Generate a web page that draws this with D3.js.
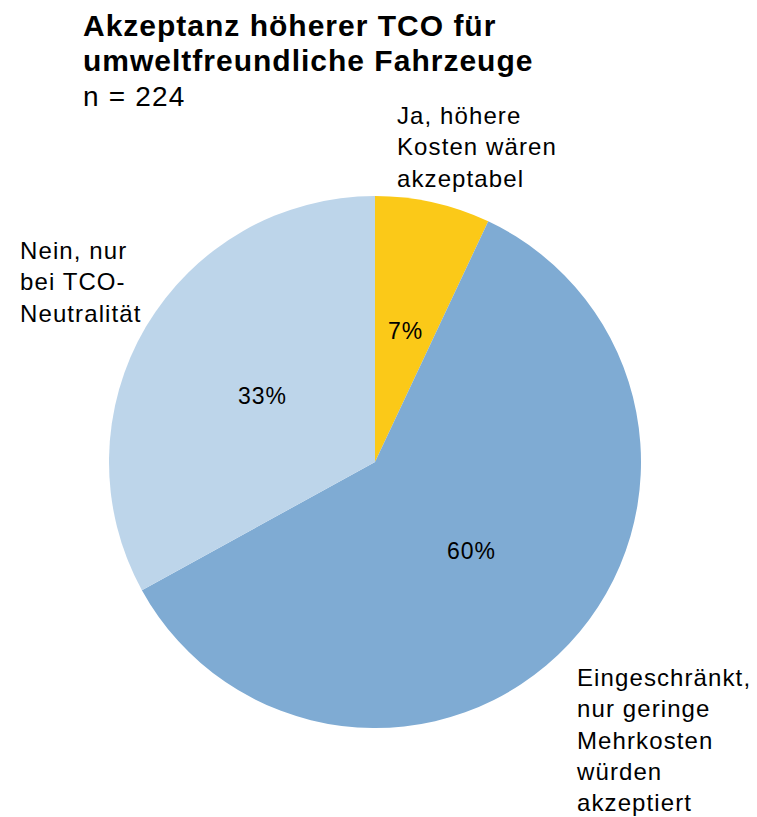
<!DOCTYPE html>
<html><head><meta charset="utf-8">
<script src="https://cdn.jsdelivr.net/npm/d3@7"></script>
<style>html,body{margin:0;padding:0;background:#fff;}svg{display:block;font-family:"Liberation Sans",Arial,sans-serif;}</style>
</head><body>
<script>
const categories = ["Ja, höhere Kosten wären akzeptabel", "Eingeschränkt, nur geringe Mehrkosten würden akzeptiert", "Nein, nur bei TCO-Neutralität"];
const values = [7, 60, 33];
const pctLabels = ["7%", "60%", "33%"];
const colors = ["#FBC918", "#7FABD3", "#BDD5EA"];
const labelLines = [["Ja, höhere", "Kosten wären", "akzeptabel"], ["Eingeschränkt,", "nur geringe", "Mehrkosten", "würden", "akzeptiert"], ["Nein, nur", "bei TCO-", "Neutralität"]];

const W = 757, H = 817;
const svg = d3.select("body").append("svg").attr("width", W).attr("height", H);

svg.append("text").attr("x", 83).attr("y", 36).attr("font-size", 30).attr("letter-spacing", 1).attr("font-weight", "bold").text("Akzeptanz höherer TCO für");
svg.append("text").attr("x", 83).attr("y", 71).attr("font-size", 30).attr("letter-spacing", 1).attr("font-weight", "bold").text("umweltfreundliche Fahrzeuge");
svg.append("text").attr("x", 83).attr("y", 106).attr("font-size", 28).attr("letter-spacing", 1.2).text("n = 224");

const cx = 375, cy = 462, r = 266;
const pie = d3.pie().sort(null).value(d => d)(values);
const arc = d3.arc().innerRadius(0).outerRadius(r);
const g = svg.append("g").attr("transform", `translate(${cx},${cy})`);
g.selectAll("path").data(pie).join("path").attr("d", arc).attr("fill", (d, i) => colors[i]);

const pctPos = [[30.5, -131], [96.5, 89], [-112.5, -66]];
g.selectAll("text.pct").data(pie).join("text").attr("class", "pct")
  .attr("x", (d, i) => pctPos[i][0]).attr("y", (d, i) => pctPos[i][1])
  .attr("text-anchor", "middle").attr("dominant-baseline", "central")
  .attr("font-size", 23).attr("letter-spacing", 1).text((d, i) => pctLabels[i]);

const labelPos = [[397, 124], [577, 686], [20, 259]];
labelLines.forEach((lines, i) => {
  const t = svg.append("text").attr("font-size", 24).attr("letter-spacing", 1.1);
  lines.forEach((l, j) => t.append("tspan").attr("x", labelPos[i][0]).attr("y", labelPos[i][1] + j * 31.3).text(l));
});
</script>
</body></html>
